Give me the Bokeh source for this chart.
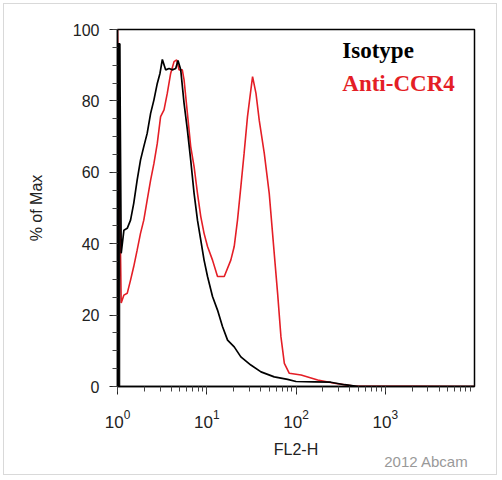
from bokeh.plotting import figure
from bokeh.models import Range1d, SingleIntervalTicker, LogTicker, Label, Title
from bokeh.embed import file_html
from bokeh.resources import INLINE

# Isotype (black) histogram, FL2-H vs % of Max
iso_x = [1.0, 1.0, 1.06, 1.10, 1.18, 1.285, 1.40, 1.52, 1.66, 1.81, 1.97, 2.15, 2.35, 2.56, 2.79,
         2.99, 3.18, 3.46, 3.78, 4.11, 4.49, 4.76, 5.11, 5.57, 6.07, 6.61, 7.21, 7.87, 8.57, 9.33,
         10.2, 11.6, 13.2, 15.0, 17.1, 20.3, 24.1, 31.2, 40.5, 57.0, 80.5, 100, 158, 245, 350, 501, 10000]
iso_y = [0, 96, 96, 37.3, 43.8, 44.3, 46.6, 51.3, 57.8, 63.4, 67.2, 70.9, 76.5, 80.3, 84.9,
         87.7, 91.6, 88.7, 89.1, 88.7, 89.1, 91.3, 88.7, 79.3, 71.8, 63.4, 54.1, 46.6, 41.0, 35.4,
         30.8, 25.2, 21.4, 16.8, 13.0, 11.1, 8.3, 6.0, 4.1, 2.7, 2.0, 1.4, 1.3, 1.2, 0.5, 0, 0]
# first (lowest) channel of the isotype histogram, drawn as a solid bin
iso_bin_left = [1.0]
iso_bin_right = [1.06]
iso_bin_top = [96]

# Anti-CCR4 (red) histogram
ccr4_x = [1.0, 1.10, 1.18, 1.285, 1.40, 1.52, 1.66, 1.81, 1.97, 2.15, 2.35, 2.56, 2.79, 3.04, 3.32,
          3.61, 3.94, 4.30, 4.60, 4.89, 5.32, 5.57, 6.07, 6.61, 7.21, 7.87, 8.57, 9.33, 10.2, 11.6,
          13.2, 15.7, 18.6, 20.3, 22.1, 24.1, 26.2, 28.6, 31.2, 32.6, 35.6, 38.7, 44.1, 50.1, 57.0,
          62.2, 67.8, 74.0, 84.1, 114, 175, 269, 447, 10000]
ccr4_y = [100, 23.4, 25.6, 26.1, 29.8, 33.6, 38.2, 42.9, 46.6, 52.2, 57.8, 62.5, 68.1, 75.6, 77.5,
          82.1, 87.7, 91.0, 91.5, 88.7, 88.7, 85.9, 76.5, 67.2, 61.6, 54.1, 47.6, 42.9, 39.2, 35.4,
          30.8, 30.8, 35.4, 39.2, 46.6, 56.0, 65.3, 75.6, 83.1, 86.8, 82.1, 74.6, 65.3, 54.1, 37.3,
          26.1, 13.9, 6.5, 3.7, 3.2, 1.8, 0.9, 0.1, 0]

series_names = ["Isotype", "Anti-CCR4"]
series_colors = ["#000000", "#e41e26"]

p = figure(width=494, height=472, x_axis_type="log", output_backend="svg",
           toolbar_location=None, x_range=Range1d(1, 9990), y_range=Range1d(0, 100),
           min_border_left=113, min_border_right=24, min_border_top=25, min_border_bottom=90,
           styles={"margin": "3px", "border": "1px solid #d9d9d9"})

p.line(ccr4_x, ccr4_y, line_color=series_colors[1], line_width=1.6)
p.quad(left=iso_bin_left, right=iso_bin_right, bottom=[0] * len(iso_bin_top), top=iso_bin_top,
       fill_color=series_colors[0], line_color=series_colors[0])
p.line(iso_x, iso_y, line_color=series_colors[0], line_width=1.7)

p.xgrid.visible = False
p.ygrid.visible = False
p.outline_line_color = "black"
p.outline_line_width = 1.5

p.xaxis.ticker = LogTicker(num_minor_ticks=10, mantissas=[1])
p.yaxis.ticker = SingleIntervalTicker(interval=20, num_minor_ticks=4)

for ax in (p.xaxis[0], p.yaxis[0]):
    ax.axis_line_color = "black"
    ax.axis_line_width = 1.5
    ax.major_tick_line_color = "#222222"
    ax.minor_tick_line_color = "#444444"
    ax.major_tick_in = 0
    ax.minor_tick_in = 0
    ax.major_tick_out = 8
    ax.minor_tick_out = 5
    ax.major_label_text_font = "Liberation Sans"
    ax.major_label_text_font_size = "16px"
    ax.major_label_text_color = "#222222"
    ax.axis_label_text_font = "Liberation Sans"
    ax.axis_label_text_font_size = "16px"
    ax.axis_label_text_font_style = "normal"
    ax.axis_label_text_color = "#222222"

p.xaxis.major_label_text_font_size = "17px"
p.xaxis.axis_label = "FL2-H"
p.yaxis.axis_label = "% of Max"
p.xaxis.major_label_standoff = 15
p.xaxis.axis_label_standoff = 10
p.yaxis.major_label_standoff = 10
p.yaxis.axis_label_standoff = 25

p.add_layout(Label(x=330, y=94.0, text=series_names[0], text_color=series_colors[0],
                   text_font="Liberation Serif", text_font_style="bold", text_font_size="23px",
                   text_baseline="alphabetic"))
p.add_layout(Label(x=330, y=85.0, text=series_names[1], text_color=series_colors[1],
                   text_font="Liberation Serif", text_font_style="bold", text_font_size="23px",
                   text_baseline="alphabetic"))
p.add_layout(Title(text="2012 Abcam", align="right", offset=6, standoff=-15,
                   vertical_align="top",
                   text_color="#999999", text_font="Liberation Sans",
                   text_font_size="15px", text_font_style="normal"), "below")

open("out.html", "w").write(file_html(p, INLINE))
